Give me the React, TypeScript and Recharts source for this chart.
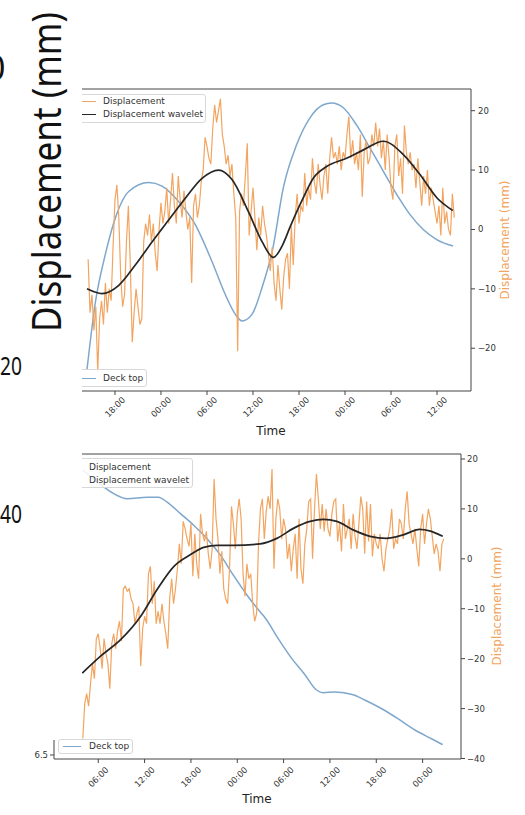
import { LineChart, Line, XAxis, YAxis, ReferenceLine } from "recharts";

// hours relative to the first midnight shown on each panel
const STEP = 0.25;

const upperStart = -9.5;
const upperDisplacement = [
  -5, -14, -11, -17, -13, -24, -15, -12, -16, -9,
  -14, -10, -12, -3, 5, 7.5, 2, -8, -13, -11,
  -2, 4, -6, -19, -14, -10, -13, -16, -15, -2,
  1, -1, 2.5, -2, 1, -4, -7, 0, 4.5, 1,
  3, 7, 1, 5, 9.5, 4, 1, 9, 5, 2,
  6.5, 3, 0, 2, -9, 4, 6, 2, 4, 8,
  10, 15.5, 14, 12, 11, 17, 21, 18, 20, 22,
  16, 14, 11, 12.5, 9, 11, 6, 2, -20.5, 3,
  6, 4, 9, 14.5, -1, 3, 7, 2, -3.5, 2,
  -1, 4, 1, -1, -4, -7, -3, -9, -12, -6,
  -10, -13.5, -8, -5, -4, -10, 0.5, -6, 2, 6,
  1, 4, 3, 9.5, 4, 7, 5, 12, 8, 6,
  11, 7.5, 5, 9, 11, 6, 12, 15.5, 12, 13,
  11, 14, 10, 13, 12, 16, 19, 12, 15, 11,
  13, 10, 16, 5.5, 13, 15, 11, 12, 16, 14,
  18, 14, 17, 12, 15, 10, 16, 12, 7, 5,
  14, 16, 9, 12, 6, 17.5, 13, 11, 13, 10,
  11, 7, 12, 8, 4, 9, 6, 10, 4, 7,
  5, 3, 1, 4, -1, 7, 1, 3, 0, -1,
  6, 2,
];
const upperWaveletTime = [-9.65, -7.7, -5.5, -3.35, -1.17, 1.0, 3.2, 5.35, 7.5, 9.26, 11.4, 13.2, 14.65, 15.9, 16.8, 18.55, 19.9, 21.6, 24.2, 26.4, 29.0, 31.6, 33.8, 36.0, 38.05];
const upperWaveletValue = [-10, -10.8, -9.4, -6.0, -2.1, 1.6, 5.3, 8.6, 10, 8.4, 3.0, -2.1, -4.7, -2.5, 0.3, 5.3, 8.7, 10.6, 12.0, 13.4, 14.85, 12.6, 9.2, 5.3, 3.2];
const upperDeckTime = [-9.65, -8.56, -7.26, -5.96, -4.2, -1.6, 0.13, 2.3, 4.47, 6.65, 8.4, 9.7, 10.56, 11.87, 13.17, 14.6, 15.95, 17.7, 19.43, 21.17, 22.26, 23.78, 25.5, 27.26, 29.0, 30.74, 32.48, 34.2, 35.96, 38.1];
const upperDeckValue = [-23.6, -12.3, -4.2, 1.9, 6.4, 7.9, 7.3, 4.7, 0.8, -5.4, -11, -14.3, -15.4, -14.3, -9.8, -3.1, 7.0, 14.3, 18.8, 21.0, 21.3, 20.5, 17.6, 13.7, 9.8, 5.9, 2.5, 0, -1.7, -2.8];
const upperTimeTicks = [-6, 0, 6, 12, 18, 24, 30, 36];
const upperDispTicks = [-20, -10, 0, 10, 20];

const lowerStart = -20;
const lowerDisplacement = [
  -36, -29, -27, -29.5, -25, -21, -24, -16, -15, -18,
  -22, -16, -19, -21, -26, -17, -15, -18, -14.5, -12.5,
  -16.5, -6, -5.5, -6.5, -6, -8, -9, -13, -11, -9.5,
  -21.5, -14, -11.5, -13, -3, -1.5, -9, -4.5, -13, -10.5,
  -13, -9, -12.5, -15, -18, -8, -4, -9, -6, -2,
  3, -1, 7.5, 6, 4, 2.5, 7, -3.5, 5, -1,
  -4, 9, 5, 3.5, 5.5, 1, -2, 2, 16, 8,
  4, -3, 1.5, -6, -8, -9, -2, 10.5, 7, 2,
  9, 12, 8, -3, -7.5, -1, -4, -3, -9, -12.5,
  -11, 3, 10, 12, 4, 9.5, 12.5, 10, 18, -2,
  8, 12, 10, 4, 8, 6, 0, 3, -2.5, 2,
  5, -4, 8, -2, -5, 3, 6, 11.5, 12, 0,
  10, 17, 12, 6, 11, 5.5, 10, 6, 4.5, 9,
  11.5, 12, 3.5, 7, 1.5, 11, 4, 6, 8, 2,
  9, 4.5, 2, 7, 12.5, 10, 1, 11.5, 3.5, 11,
  0.5, 5, 3, 2, 5, 0, -2.5, 2, 4, 6,
  10, 2, 4, 3, 8, 7, 4, 10, 13.5, 7,
  5, 3, 6, 2, -1.5, 6, 9, 3, 7, 10,
  8, 4.5, 1, 3, 1.5, -2.5, 3, 4,
];
const lowerWaveletTime = [-20.07, -17.7, -15.1, -12.5, -10.4, -8.2, -6.1, -4.35, -2.6, -0.48, 2.97, 5.13, 7.27, 9.43, 11.15, 12.9, 15.0, 17.2, 19.3, 21.5, 23.6, 24.9, 26.6];
const lowerWaveletValue = [-22.9, -19.5, -16.2, -11.5, -6.2, -1.5, 0.8, 2.3, 2.7, 2.7, 3.0, 4.1, 6.1, 7.5, 7.9, 7.5, 5.8, 4.5, 4.1, 4.8, 5.9, 5.6, 4.5];
const lowerDeckTime = [-20.0, -18.1, -16.0, -14.25, -11.67, -10.2, -9.08, -7.36, -5.68, -3.91, -2.2, -0.52, 1.25, 2.97, 3.62, 5.3, 7.07, 8.79, 10.08, 11.1, 12.66, 15.0, 16.5, 18.7, 20.8, 23.0, 25.15, 26.6];
const lowerDeckValue = [6.784, 6.772, 6.7605, 6.7555, 6.757, 6.757, 6.752, 6.7406, 6.7293, 6.7156, 6.6994, 6.6794, 6.6595, 6.6425, 6.6366, 6.616, 6.596, 6.5797, 6.566, 6.5621, 6.5628, 6.5601, 6.5548, 6.5461, 6.5362, 6.5249, 6.5162, 6.5103];
const lowerTimeTicks = [-18, -12, -6, 0, 6, 12, 18, 24];
const lowerDispTicks = [-40, -30, -20, -10, 0, 10, 20];
const lowerDeckTicks = [6.5];

const ORANGE = "#f2a561";
const BLACK = "#262626";
const BLUE = "#7ea7cd";
const AXIS = "#444";
const FONT = "DejaVu Sans";

const hourLabel = (h: number) => String(((h % 24) + 24) % 24).padStart(2, "0") + ":00";
const withMinus = (v: number) => (v < 0 ? "\u2212" + Math.abs(v) : String(v));
const sampled = (start: number, values: number[]) => values.map((v, i) => ({ t: start + i * STEP, v }));
const paired = (ts: number[], vs: number[]) => ts.map((t, i) => ({ t, v: vs[i] }));

const upperDisp = sampled(upperStart, upperDisplacement);
const upperWavelet = paired(upperWaveletTime, upperWaveletValue);
const upperDeck = paired(upperDeckTime, upperDeckValue);
const lowerDisp = sampled(lowerStart, lowerDisplacement);
const lowerWavelet = paired(lowerWaveletTime, lowerWaveletValue);
const lowerDeck = paired(lowerDeckTime, lowerDeckValue);

const TimeTick = ({ x, y, payload, dy }: any) => {
  const cy = y + dy;
  return (
    <text x={x} y={cy} textAnchor="middle" dominantBaseline="central" fontSize={8.5} fill="#333" fontFamily={FONT} transform={`rotate(-45 ${x} ${cy})`}>
      {hourLabel(payload.value)}
    </text>
  );
};

type Entry = { label: string; color?: string; y: number };

const LegendBox = ({ left, top, width, height, lineX, textX, entries }: { left: number; top: number; width: number; height: number; lineX: number; textX: number; entries: Entry[] }) => (
  <div style={{ position: "absolute", left, top, width, height, border: "1px solid #d8d8d8", borderRadius: 3, background: "rgba(255,255,255,0.85)", boxSizing: "border-box" }}>
    {entries.map((e) => (
      <div key={e.label}>
        {e.color && <div style={{ position: "absolute", left: lineX - left, top: e.y - top - 1.5, width: 18, height: 1.5, background: e.color }} />}
        <span style={{ position: "absolute", left: textX - left, top: e.y - top - 7, fontSize: 9, lineHeight: "12px", fontFamily: FONT, color: "#333", whiteSpace: "nowrap" }}>{e.label}</span>
      </div>
    ))}
  </div>
);

const Rotated = ({ cx, cy, size, color, text }: { cx: number; cy: number; size: number; color: string; text: string }) => (
  <div style={{ position: "absolute", left: cx, top: cy, transform: "translate(-50%, -50%) rotate(-90deg)", fontSize: size, fontFamily: FONT, color, whiteSpace: "nowrap", lineHeight: 1 }}>{text}</div>
);

const Centered = ({ cx, cy, text }: { cx: number; cy: number; text: string }) => (
  <div style={{ position: "absolute", left: cx, top: cy, transform: "translate(-50%, -50%)", fontSize: 12, fontFamily: FONT, color: "#222", whiteSpace: "nowrap", lineHeight: 1 }}>{text}</div>
);

export default function App() {
  return (
    <div style={{ position: "absolute", left: 0, top: 0, width: 525, height: 815, background: "#fff", overflow: "hidden" }}>
      <div style={{ position: "absolute", left: 0, top: 0 }}>
        <LineChart width={525} height={440} margin={{ top: 89, right: 0, bottom: 0, left: 82 }}>
          <XAxis dataKey="t" type="number" domain={[-10.3, 40.43]} ticks={upperTimeTicks} interval={0} allowDataOverflow height={49} tickSize={4} stroke={AXIS} tick={(p: any) => <TimeTick {...p} dy={10} />} />
          <YAxis yAxisId="deck" hide domain={[-27.2, 23.65]} allowDataOverflow />
          <YAxis yAxisId="disp" orientation="right" width={54} domain={[-27.2, 23.65]} ticks={upperDispTicks} allowDataOverflow tickSize={4} tickMargin={3} stroke={AXIS} tick={{ fontSize: 8.5, fill: "#333", fontFamily: FONT }} tickFormatter={withMinus} />
          <ReferenceLine yAxisId="disp" y={23.65} stroke={AXIS} />
          <Line yAxisId="deck" data={upperDeck} dataKey="v" type="monotone" stroke={BLUE} strokeWidth={1.5} dot={false} isAnimationActive={false} />
          <Line yAxisId="disp" data={upperDisp} dataKey="v" type="linear" stroke={ORANGE} strokeWidth={1.2} dot={false} isAnimationActive={false} />
          <Line yAxisId="disp" data={upperWavelet} dataKey="v" type="monotone" stroke={BLACK} strokeWidth={1.7} dot={false} isAnimationActive={false} />
        </LineChart>
      </div>
      <div style={{ position: "absolute", left: 0, top: 440 }}>
        <LineChart width={525} height={375} margin={{ top: 14, right: 0, bottom: 0, left: 0 }}>
          <XAxis dataKey="t" type="number" domain={[-23.73, 28.97]} ticks={lowerTimeTicks} interval={0} allowDataOverflow height={56} tickSize={4} stroke={AXIS} tick={(p: any) => <TimeTick {...p} dy={12} />} />
          <YAxis yAxisId="deck" orientation="left" width={54} domain={[6.496, 6.8]} ticks={lowerDeckTicks} allowDataOverflow tickSize={4} tickMargin={2} stroke={AXIS} tick={{ fontSize: 8.5, fill: "#333", fontFamily: FONT }} tickFormatter={(v: number) => v.toFixed(1)} />
          <YAxis yAxisId="disp" orientation="right" width={64} domain={[-40.1, 21]} ticks={lowerDispTicks} allowDataOverflow tickSize={4} tickMargin={2} stroke={AXIS} tick={{ fontSize: 8.5, fill: "#333", fontFamily: FONT }} tickFormatter={withMinus} />
          <ReferenceLine yAxisId="disp" y={21} stroke={AXIS} />
          <Line yAxisId="deck" data={lowerDeck} dataKey="v" type="monotone" stroke={BLUE} strokeWidth={1.5} dot={false} isAnimationActive={false} />
          <Line yAxisId="disp" data={lowerDisp} dataKey="v" type="linear" stroke={ORANGE} strokeWidth={1.2} dot={false} isAnimationActive={false} />
          <Line yAxisId="disp" data={lowerWavelet} dataKey="v" type="monotone" stroke={BLACK} strokeWidth={1.7} dot={false} isAnimationActive={false} />
        </LineChart>
      </div>

      <LegendBox left={72} top={94} width={134} height={29} lineX={77} textX={102} entries={[{ label: "Displacement", color: ORANGE, y: 101 }, { label: "Displacement wavelet", color: BLACK, y: 114 }]} />
      <LegendBox left={72} top={369} width={75} height={18} lineX={77} textX={102} entries={[{ label: "Deck top", color: BLUE, y: 378 }]} />
      <LegendBox left={58} top={458} width={135} height={30} lineX={63} textX={88} entries={[{ label: "Displacement", color: ORANGE, y: 467 }, { label: "Displacement wavelet", color: BLACK, y: 480 }]} />

      <Rotated cx={505} cy={240} size={12} color={ORANGE} text="Displacement (mm)" />
      <Rotated cx={497} cy={606} size={12} color={ORANGE} text="Displacement (mm)" />
      <Centered cx={271} cy={431} text="Time" />
      <Centered cx={257} cy={799} text="Time" />

      {/* fragment of the neighbouring figure that covers the left edge */}
      <svg width={82} height={740} style={{ position: "absolute", left: 0, top: 0, background: "#fff" }}>
        <text transform="translate(61 332) rotate(-90)" fontSize={40} fontFamily="Noto Sans" fill="#111" textLength={320} lengthAdjust="spacingAndGlyphs">
          Displacement (mm)
        </text>
        <text x={-14} y={80} fontSize={34} fontFamily="Noto Sans" fill="#111">0</text>
        <text x={0} y={375} fontSize={25} fontFamily="Noto Sans" fill="#111" textLength={22} lengthAdjust="spacingAndGlyphs">20</text>
        <text x={0} y={523} fontSize={25} fontFamily="Noto Sans" fill="#111" textLength={22} lengthAdjust="spacingAndGlyphs">40</text>
      </svg>

      <LegendBox left={58} top={739} width={75} height={15} lineX={62} textX={88} entries={[{ label: "Deck top", color: BLUE, y: 746 }]} />
    </div>
  );
}
